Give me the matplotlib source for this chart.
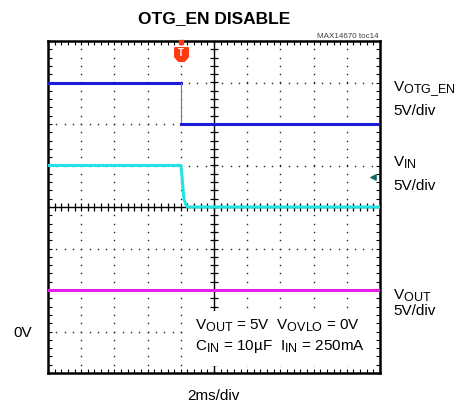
import matplotlib
matplotlib.use("Agg")
import matplotlib.pyplot as plt
import numpy as np
from matplotlib.path import Path
from matplotlib.patches import Rectangle

try:  # scope-style subscripts are only a bit smaller than the base text
    import matplotlib._mathtext as _mt
    _mt.SHRINK_FACTOR = 0.82
except Exception:
    pass

plt.rcParams["font.family"] = ["Liberation Sans", "DejaVu Sans"]
plt.rcParams["mathtext.fontset"] = "custom"
plt.rcParams["mathtext.rm"] = "Liberation Sans"
plt.rcParams["mathtext.default"] = "regular"

# ---- data (time in ms, trigger at 0 ms; levels in volts, 5 V/div) ----
T_MIN, T_MAX = -8, 12          # 10 div x 2 ms/div
V_PER_DIV = 5
otg_t = [-8, 0, 0, 12]
otg_v = [5, 5, 0, 0]
vin_t = [-8, 0.0, 0.05, 0.1, 0.15, 0.2, 0.3, 0.4, 12]
vin_v = [5, 5, 4.2, 3.0, 1.8, 0.9, 0.3, 0.0, 0.0]
vout_t = [-8, 12]
vout_v = [5, 5]
trigger_t = 0

# screen offsets of each channel's 0 V (in divisions)
OFF_OTG, OFF_VIN, OFF_VOUT = 6, 4, 1
VIN_MARK = 4.72

BLUE, CYAN, MAG = "#1c1cd6", "#22e2e6", "#e81ee8"


def div(v, off):
    return off + np.asarray(v, float) / V_PER_DIV


fig = plt.figure(figsize=(4.69, 4.08), dpi=100)
ax = fig.add_axes([48 / 469, 35 / 408, 332 / 469, 332 / 408])
ax.set_xlim(T_MIN, T_MAX); ax.set_ylim(0, 8)
for s in ax.spines.values():
    s.set_linewidth(1.8)
ax.set_xticks(np.arange(T_MIN, T_MAX + 0.1, 2))
ax.set_yticks(np.arange(0, 9, 1))
ax.set_xticks(np.arange(T_MIN, T_MAX, 0.4), minor=True)
ax.set_yticks(np.arange(0, 8, 0.2), minor=True)
ax.tick_params(which="both", direction="in", top=True, right=True, length=3, width=0.8,
               labelbottom=False, labelleft=False)

# dotted graticule
xc, yc = (T_MIN + T_MAX) / 2, 4
for xg in np.arange(T_MIN + 2, T_MAX, 2):
    if xg != xc:
        ys = np.arange(0.2, 8, 0.2)
        ax.plot(np.full_like(ys, xg), ys, ls="none", marker="s", ms=1.0, color="#222", mew=0)
for yg in range(1, 8):
    if yg != yc:
        xs = np.arange(T_MIN + 0.5, T_MAX, 0.5)
        ax.plot(xs, np.full_like(xs, yg), ls="none", marker="s", ms=1.0, color="#222", mew=0)
# centre cross with ticks
ax.axvline(xc, color="black", lw=1.0, zorder=2)
ax.axhline(yc, color="black", lw=1.0, zorder=2)
xs = np.arange(T_MIN, T_MAX, 0.4)
ax.plot(xs, np.full_like(xs, yc), ls="none", marker="|", ms=6, mew=0.9, color="black", zorder=2)
ys = np.arange(0.2, 8, 0.2)
ax.plot(np.full_like(ys, xc), ys, ls="none", marker="_", ms=6, mew=0.9, color="black", zorder=2)

# white box for annotation
ax.add_patch(Rectangle((0.413, 0.021), 0.569, 0.166, transform=ax.transAxes,
                       facecolor="white", edgecolor="none", zorder=3))

# traces
ot, ov = np.array(otg_t), div(otg_v, OFF_OTG)
ax.plot(ot[:2], ov[:2], color=BLUE, lw=2.2, zorder=4)
ax.plot(ot[1:3], ov[1:3], color="#6a6af0", lw=0.8, zorder=4)
ax.plot(ot[2:], ov[2:], color=BLUE, lw=2.2, zorder=4)
ax.plot(vin_t, div(vin_v, OFF_VIN), color=CYAN, lw=2.2, zorder=4)
ax.plot(vout_t, div(vout_v, OFF_VOUT), color=MAG, lw=2.2, zorder=4)

# trigger marker
tag = Path([(-1, 1), (1, 1), (1, -0.35), (0.45, -1), (-0.45, -1), (-1, -0.35), (-1, 1)])
ax.scatter([trigger_t], [7.69], marker=tag, s=95, color="#ff3a10", zorder=6, clip_on=False)
ax.scatter([trigger_t], [7.97], marker="s", s=10, color="#ff3a10", zorder=6, clip_on=False)
ax.text(trigger_t, 7.70, "T", color="white", fontsize=7, fontweight="bold",
        ha="center", va="center", zorder=7)
ax.scatter([T_MAX - 0.45], [VIN_MARK], marker="<", s=14, color="#106868", zorder=6)

# annotation text
ax.text(0.443, 0.13, r"V$_{OUT}$ = 5V  V$_{OVLO}$ = 0V", transform=ax.transAxes,
        fontsize=11, va="baseline", zorder=5)
ax.text(0.443, 0.069, r"C$_{IN}$ = 10µF  I$_{IN}$ = 250mA", transform=ax.transAxes,
        fontsize=11, va="baseline", zorder=5)

# labels outside
fig.text(0.456, 0.944, "OTG_EN DISABLE", fontsize=12.5, fontweight="bold", ha="center", va="baseline")
fig.text(0.808, 0.908, "MAX14670 toc14", fontsize=5.8, color="#404040", ha="right", va="baseline")
lx = 393 / 469
fig.text(lx, 0.7745, r"V$_{OTG\_EN}$", fontsize=11, va="baseline")
fig.text(lx, 0.718, "5V/div", fontsize=11, va="baseline")
fig.text(lx, 0.591, r"V$_{IN}$", fontsize=11, va="baseline")
fig.text(lx, 0.534, "5V/div", fontsize=11, va="baseline")
fig.text(lx, 0.265, r"V$_{OUT}$", fontsize=11, va="baseline")
fig.text(lx, 0.228, "5V/div", fontsize=11, va="baseline")
fig.text(0.028, 0.175, "0V", fontsize=11, va="baseline")
fig.text(0.456, 0.02, "2ms/div", fontsize=11, ha="center", va="baseline")

fig.savefig("out.png", dpi=100)
